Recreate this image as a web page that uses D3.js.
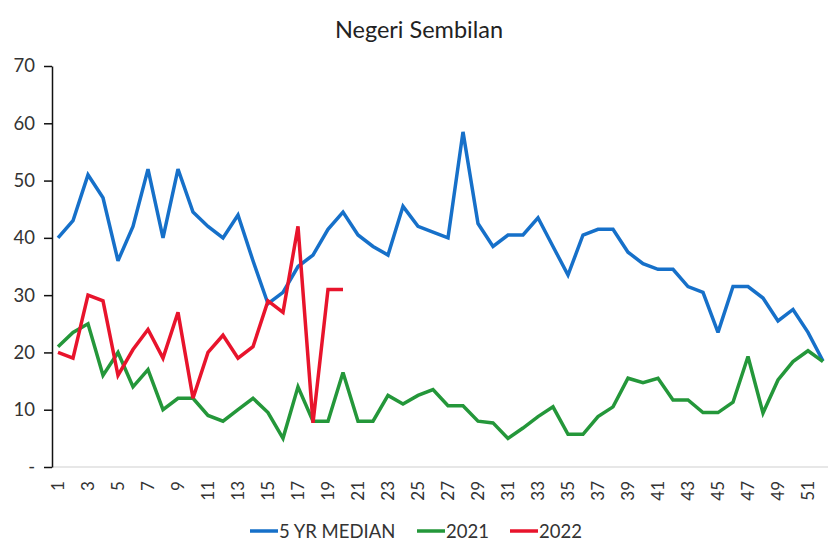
<!DOCTYPE html>
<html><head><meta charset="utf-8">
<script src="https://cdn.jsdelivr.net/npm/d3@7"></script>
<style>
html,body{margin:0;padding:0;background:#fff;}
svg{display:block;font-family:Lato,"Open Sans",sans-serif;}
</style></head>
<body>
<svg id="chart" width="838" height="551"></svg>
<script>
const title = "Negeri Sembilan";
const weeks = d3.range(1, 53);
const median5yr = [40,43,51,47,36,42,52,40,52,44.5,42,40,44,36,28.5,30.5,35,37,41.5,44.5,40.5,38.5,37,45.5,42,41,40,58.5,42.5,38.5,40.5,40.5,43.5,38.5,33.5,40.5,41.5,41.5,37.5,35.5,34.5,34.5,31.5,30.5,23.5,31.5,31.5,29.5,25.5,27.5,23.5,18.5];
const y2021 = [21,23.5,25,16,20,14,17,10,12,12,9,8,10,12,9.5,5,14,8,8,16.5,8,8,12.5,11,12.5,13.5,10.7,10.7,8,7.7,5,6.8,8.8,10.5,5.7,5.7,8.8,10.5,15.5,14.7,15.5,11.7,11.7,9.5,9.5,11.3,19.3,9.4,15.2,18.4,20.3,18.4];
const y2022 = [20,19,30,29,16,20.5,24,19,27,12,20,23,19,21,29,27,42,7.7,31,31];
const yTicks = [0,10,20,30,40,50,60,70];
const seriesNames = ["5 YR MEDIAN","2021","2022"];
const seriesColors = ["#1670c9","#24973a","#e8142c"];

const svg = d3.select("#chart");
const x = d3.scaleLinear().domain([1,52]).range([58,823]);
const y = d3.scaleLinear().domain([0,70]).range([467,66]);

svg.append("text").attr("x",419).attr("y",38).attr("text-anchor","middle")
  .attr("font-size",23.5).attr("fill","#222").text(title);

// x baseline
svg.append("line").attr("x1",52).attr("x2",828).attr("y1",y(0)).attr("y2",y(0))
  .attr("stroke","#d0d0d0").attr("stroke-width",1.2);

// y axis
const yAxis = d3.axisLeft(y).tickValues(yTicks).tickSize(8).tickSizeOuter(0)
  .tickFormat(d => d===0 ? "-" : d);
const gy = svg.append("g").attr("transform","translate(52,0)").call(yAxis);
gy.select(".domain").attr("stroke","#111").attr("stroke-width",1.5);
gy.selectAll(".tick line").attr("stroke","#111").attr("stroke-width",1.5);
gy.selectAll(".tick text").attr("font-size",18.5).attr("fill","#333")
  .attr("font-family","Lato,'Open Sans',sans-serif").attr("x",-17);

// x axis labels (odd weeks)
const xAxis = d3.axisBottom(x).tickValues(weeks.filter(w => w%2===1)).tickSize(0);
const gx = svg.append("g").attr("transform",`translate(0,${y(0)})`).call(xAxis);
gx.select(".domain").remove();
gx.selectAll(".tick text").attr("font-size",17).attr("fill","#333")
  .attr("font-family","Lato,'Open Sans',sans-serif")
  .attr("transform","rotate(-90)").attr("text-anchor","end")
  .attr("x",-14).attr("y",0).attr("dy","0.35em");

const line = d3.line().x((d,i)=>x(weeks[i])).y(d=>y(d));
[median5yr,y2021,y2022].forEach((s,i)=>{
  svg.append("path").datum(s).attr("d",line).attr("fill","none")
    .attr("stroke",seriesColors[i]).attr("stroke-width",3.5)
    .attr("stroke-linejoin","miter").attr("stroke-miterlimit",3);
});

// legend
const legX = [250,417,510];
const lg = svg.append("g");
seriesNames.forEach((n,i)=>{
  lg.append("line").attr("x1",legX[i]).attr("x2",legX[i]+28).attr("y1",531).attr("y2",531)
    .attr("stroke",seriesColors[i]).attr("stroke-width",3.5);
  lg.append("text").attr("x",legX[i]+29).attr("y",538).attr("font-size",18.5)
    .attr("fill","#333").text(n);
});
</script>
</body></html>
